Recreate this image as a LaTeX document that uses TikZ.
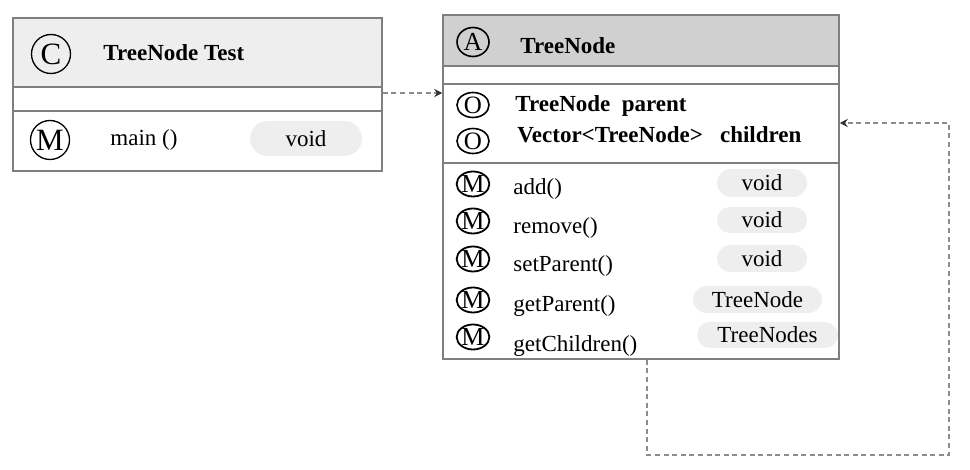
\documentclass[tikz,border=0pt]{standalone}
\usepackage{fontspec}
\setmainfont{Liberation Serif}
\usetikzlibrary{arrows.meta,shapes.geometric}
\definecolor{bordergray}{HTML}{7F7F7F}
\definecolor{headA}{HTML}{EEEEEE}
\definecolor{headB}{HTML}{D0D0D0}
\definecolor{pillgray}{HTML}{EEEEEE}
\definecolor{dashgray}{HTML}{8C8C8C}
\begin{document}
\begin{tikzpicture}[x=0.5pt,y=-0.5pt,
 umlbox/.style={draw=bordergray, line width=0.75pt, rectangle, inner sep=0},
 divider/.style={draw=bordergray, line width=0.75pt},
 lbl/.style={anchor=base west, inner sep=0, font=\fontsize{11.5}{13}\selectfont},
 lblb/.style={anchor=base west, inner sep=0, font=\fontsize{11.5}{13}\selectfont\bfseries},
 pill/.style={fill=pillgray, inner sep=0, font=\fontsize{11.5}{13}\selectfont},
 bigicon/.style={circle, draw=black, line width=0.65pt, minimum size=19.5pt, inner sep=0, font=\fontsize{15.5}{16}\selectfont},
 smicon/.style={ellipse, draw=black, line width=0.9pt, minimum width=16pt, minimum height=12.5pt, inner sep=0, font=\fontsize{13}{14}\selectfont},
 dep/.style={draw=dashgray, line width=0.6pt, dash pattern=on 2.5pt off 1.8pt, -{Stealth[length=4pt,width=4pt,color=black!80]}}
]
\useasboundingbox (0,0) rectangle (970,470);

% ---- TreeNode Test class ----
\fill[headA] (13,18) rectangle (382,87);
\node[umlbox, minimum width=184.5pt, minimum height=76.5pt] (tt) at (197.5,94.5) {};
\draw[divider] (tt.west |- 0,87) -- (tt.east |- 0,87);
\draw[divider] (tt.west |- 0,111) -- (tt.east |- 0,111);
\node[bigicon] (c1) at (51,54) {C};
\node[lblb] (ttname) at (103,61) {TreeNode Test};
\node[bigicon] (m0) at (50,140) {M};
\node[lbl] (mainm) at (110,146) {main ()};
\node[pill, minimum width=56pt, minimum height=17.5pt, rounded corners=8.75pt] (v0) at (306,138.5) {void};

% ---- TreeNode class ----
\fill[headB] (443,15) rectangle (839,66);
\node[umlbox, minimum width=198pt, minimum height=172pt] (tn) at (641,187) {};
\draw[divider] (tn.west |- 0,66) -- (tn.east |- 0,66);
\draw[divider] (tn.west |- 0,84) -- (tn.east |- 0,84);
\draw[divider] (tn.west |- 0,163) -- (tn.east |- 0,163);
\node[smicon, minimum height=14.5pt, line width=0.8pt] (a1) at (473,42) {A};
\node[lblb] (tnname) at (520,54) {TreeNode};

\node[smicon, line width=0.8pt, font=\fontsize{12.5}{14}\selectfont] (o1) at (473,105) {O};
\node[smicon, line width=0.8pt, font=\fontsize{12.5}{14}\selectfont] (o2) at (473,141) {O};
\node[lblb] (at1) at (515,112) {TreeNode\ \ parent};
\node[lblb] (at2) at (517,143) {Vector<TreeNode>\ \ \ children};

\node[smicon] (m1) at (473,184) {M};
\node[smicon] (m2) at (473,221) {M};
\node[smicon] (m3) at (473,259) {M};
\node[smicon] (m4) at (473,300) {M};
\node[smicon] (m5) at (473,337) {M};
\node[lbl] (f1) at (513,195) {add()};
\node[lbl] (f2) at (513,234) {remove()};
\node[lbl] (f3) at (513,272) {setParent()};
\node[lbl] (f4) at (513,312) {getParent()};
\node[lbl] (f5) at (513,352) {getChildren()};

\node[pill, minimum width=45pt, minimum height=14pt, rounded corners=7pt] (r1) at (762,183) {void};
\node[pill, minimum width=45pt, minimum height=13pt, rounded corners=6.5pt] (r2) at (762,220) {void};
\node[pill, minimum width=45pt, minimum height=13.5pt, rounded corners=6.75pt] (r3) at (762,258.5) {void};
\node[pill, minimum width=64.5pt, minimum height=13.5pt, rounded corners=6.75pt] (r4) at (757.5,299.5) {TreeNode};
\node[pill, minimum width=70.5pt, minimum height=13pt, rounded corners=6.5pt] (r5) at (767.5,335) {TreeNodes};

% ---- connectors ----
\draw[dep] (tt.east |- 0,93) -- (tn.west |- 0,93);
\coordinate (l1) at (647,455);
\coordinate (l2) at (949,455);
\coordinate (l3) at (949,123);
\draw[dep] (tn.south -| l1) -- (l1) -- (l2) -- (l3) -- (tn.east |- l3);
\end{tikzpicture}
\end{document}
